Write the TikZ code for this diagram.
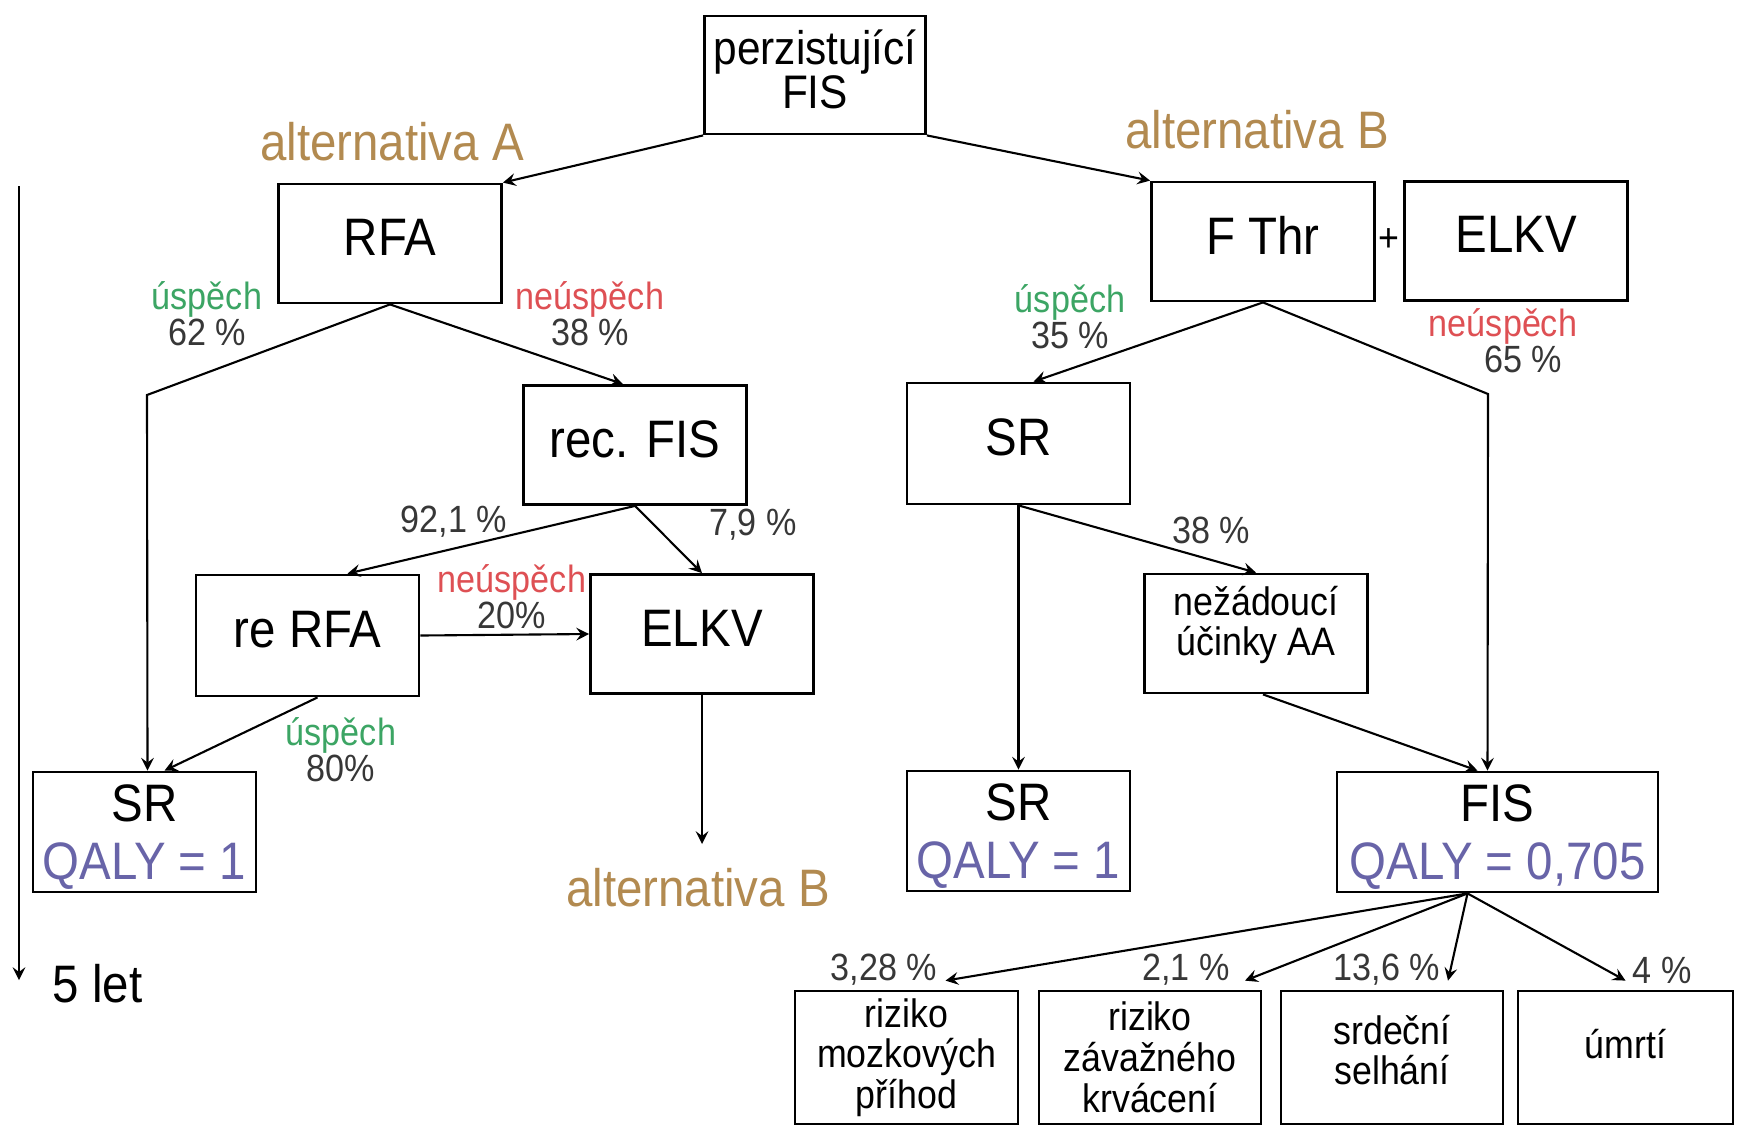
\documentclass[tikz,border=0pt]{standalone}
\usepackage{fontspec}
\setmainfont{Liberation Sans}[FakeStretch=0.9]
\definecolor{altcol}{RGB}{178,138,80}
\definecolor{okcol}{RGB}{60,165,100}
\definecolor{failcol}{RGB}{222,80,84}
\definecolor{qalycol}{RGB}{104,100,168}
\definecolor{numcol}{RGB}{55,55,55}
\newcommand{\bigf}{\fontsize{15}{16.5}\selectfont\lineskiplimit=-\maxdimen}
\newcommand{\midf}{\fontsize{13.4}{12.7}\selectfont\lineskiplimit=-\maxdimen}
\newcommand{\smallf}{\fontsize{11.3}{11.6}\selectfont\lineskiplimit=-\maxdimen}
\newcommand{\labf}{\fontsize{10.8}{10.2}\selectfont\lineskiplimit=-\maxdimen}
\tikzset{>=stealth,
  box/.style={draw, line width=0.8pt, inner sep=0pt, align=center,
    minimum width=22.3mm, minimum height=11.9mm, font=\bigf},
  onebox/.style={box, text depth=3.5pt},
  twobox/.style={box, minimum height=12mm, text depth=-1.6pt},
  smallbox/.style={box, font=\smallf},
  alt/.style={text=altcol, font=\bigf, inner sep=0pt},
  lab/.style={align=center, inner sep=0pt, font=\labf, text=numcol},
  arr/.style={->, line width=0.6pt}}

\begin{document}
\begin{tikzpicture}[x=0.1mm, y=-0.1mm]
    \useasboundingbox (0,0) rectangle (1737,1127);
    % boxes
    \node[box, font=\midf, minimum width=22.1mm, minimum height=11.8mm, text depth=3.4pt] (fis0) at (815,75) {perzistující\\FIS};
    \node[onebox] (rfa) at (390,243.5) {RFA};
    \node[onebox] (recfis) at (635,445) {rec. FIS};
    \node[onebox, minimum height=12.1mm] (rerfa) at (307.5,635.5) {re RFA};
    \node[onebox] (elkva) at (702,634) {ELKV};
    \node[twobox] (sra) at (144.5,832) {SR\\{\color{qalycol}QALY = 1}};
    \node[onebox] (fthr) at (1263,241.5) {F Thr};
    \node[onebox] (elkvb) at (1516,241) {ELKV};
    \node[onebox, minimum height=12.1mm] (srb) at (1018.5,443.5) {SR};
    \node[smallbox, text depth=7.2pt] (nezad) at (1256,633.5) {nežádoucí\\účinky AA};
    \node[twobox] (src) at (1018.5,831) {SR\\{\color{qalycol}QALY = 1}};
    \node[twobox, minimum width=32.1mm] (fis) at (1497.5,832) {FIS\\{\color{qalycol}QALY = 0,705}};
    \node[smallbox, minimum height=13.3mm] (mozek) at (906.5,1057.5) {riziko\\mozkových\\příhod};
    \node[smallbox, minimum height=13.3mm, minimum width=22.2mm] (krvac) at (1150,1057.5) {riziko\\závažného\\krvácení};
    \node[smallbox, minimum height=13.3mm, minimum width=22.2mm, text depth=4.4pt] (srdce) at (1392,1057.5) {srdeční\\selhání};
    \node[smallbox, minimum height=13.3mm, minimum width=21.5mm, text depth=7.6pt] (umrti) at (1625.5,1057.5) {úmrtí};
    \node[font=\smallf, inner sep=0pt] (plus) at (1389,240) {+};

    % alternatives
    \node[alt] (altA) at (392,142) {alternativa A};
    \node[alt] (altB) at (1257,130) {alternativa B};
    \node[alt] (altBb) at (698,888) {alternativa B};

    % probabilities
    \node[lab] (pa1) at (207,314) {{\color{okcol}úspěch}\\62 \%};
    \node[lab] (pa2) at (590,314) {{\color{failcol}neúspěch}\\38 \%};
    \node[lab] (pa3) at (454,522) {92,1 \%};
    \node[lab] (pa4) at (753,525) {7,9 \%};
    \node[lab] (pa5) at (512,597) {{\color{failcol}neúspěch}\\20\%};
    \node[lab] (pa6) at (341,750) {{\color{okcol}úspěch}\\80\%};
    \node[lab] (pb1) at (1070,317) {{\color{okcol}úspěch}\\35 \%};
    \node[lab] (pb2) at (1503,341) {{\color{failcol}neúspěch}\\\hspace*{4mm}65 \%};
    \node[lab] (pb3) at (1211,530) {38 \%};
    \node[lab] (pc1) at (884,970) {3,28 \%};
    \node[lab] (pc2) at (1186,970) {2,1 \%};
    \node[lab] (pc3) at (1387,970) {13,6 \%};
    \node[lab] (pc4) at (1662,970) {4 \%};

    % bends and free ends
    \coordinate (bendA) at (147,395);
    \coordinate (bendB) at (1488,394);
    \coordinate (endB) at (702,844);
    \coordinate (t0) at (19,186);
    \coordinate (t1) at (19,980);

    % arrows
    \draw[arr] (fis0.south west) -- (rfa.north east);
    \draw[arr] (fis0.south east) -- (fthr.north west);
    \draw[arr] (rfa.south) -- (bendA) -- ([xshift=0.3mm]sra.north);
    \draw[arr] (rfa.south) -- ([xshift=-1.2mm]recfis.north);
    \draw[arr] (recfis.south) -- ([xshift=4mm]rerfa.north);
    \draw[arr] (recfis.south) -- (elkva.north);
    \draw[arr] (rerfa.east) -- (elkva.west);
    \draw[arr] ([xshift=1mm]rerfa.south) -- ([xshift=2mm]sra.north);
    \draw[arr] (elkva.south) -- (endB);
    \draw[arr] (fthr.south) -- ([xshift=1.5mm]srb.north);
    \draw[arr] (fthr.south) -- (bendB) -- ([xshift=-1mm]fis.north);
    \draw[arr] (srb.south) -- (src.north);
    \draw[arr] (srb.south) -- (nezad.north);
    \draw[arr] ([xshift=0.7mm]nezad.south) -- ([xshift=-2mm]fis.north);
    \draw[arr] ([xshift=-3mm]fis.south) -- ([xshift=3.9mm,yshift=0.9mm]mozek.north);
    \draw[arr] ([xshift=-3mm]fis.south) -- ([xshift=9.5mm,yshift=0.9mm]krvac.north);
    \draw[arr] ([xshift=-3mm]fis.south) -- ([xshift=5.6mm,yshift=0.9mm]srdce.north);
    \draw[arr] ([xshift=-3mm]fis.south) -- ([yshift=0.9mm]umrti.north);

    % time axis
    \draw[arr] (t0) -- (t1);
    \node[anchor=west, font=\bigf, inner sep=0pt] (roky) at (52,984) {5 let};
\end{tikzpicture}
\end{document}
